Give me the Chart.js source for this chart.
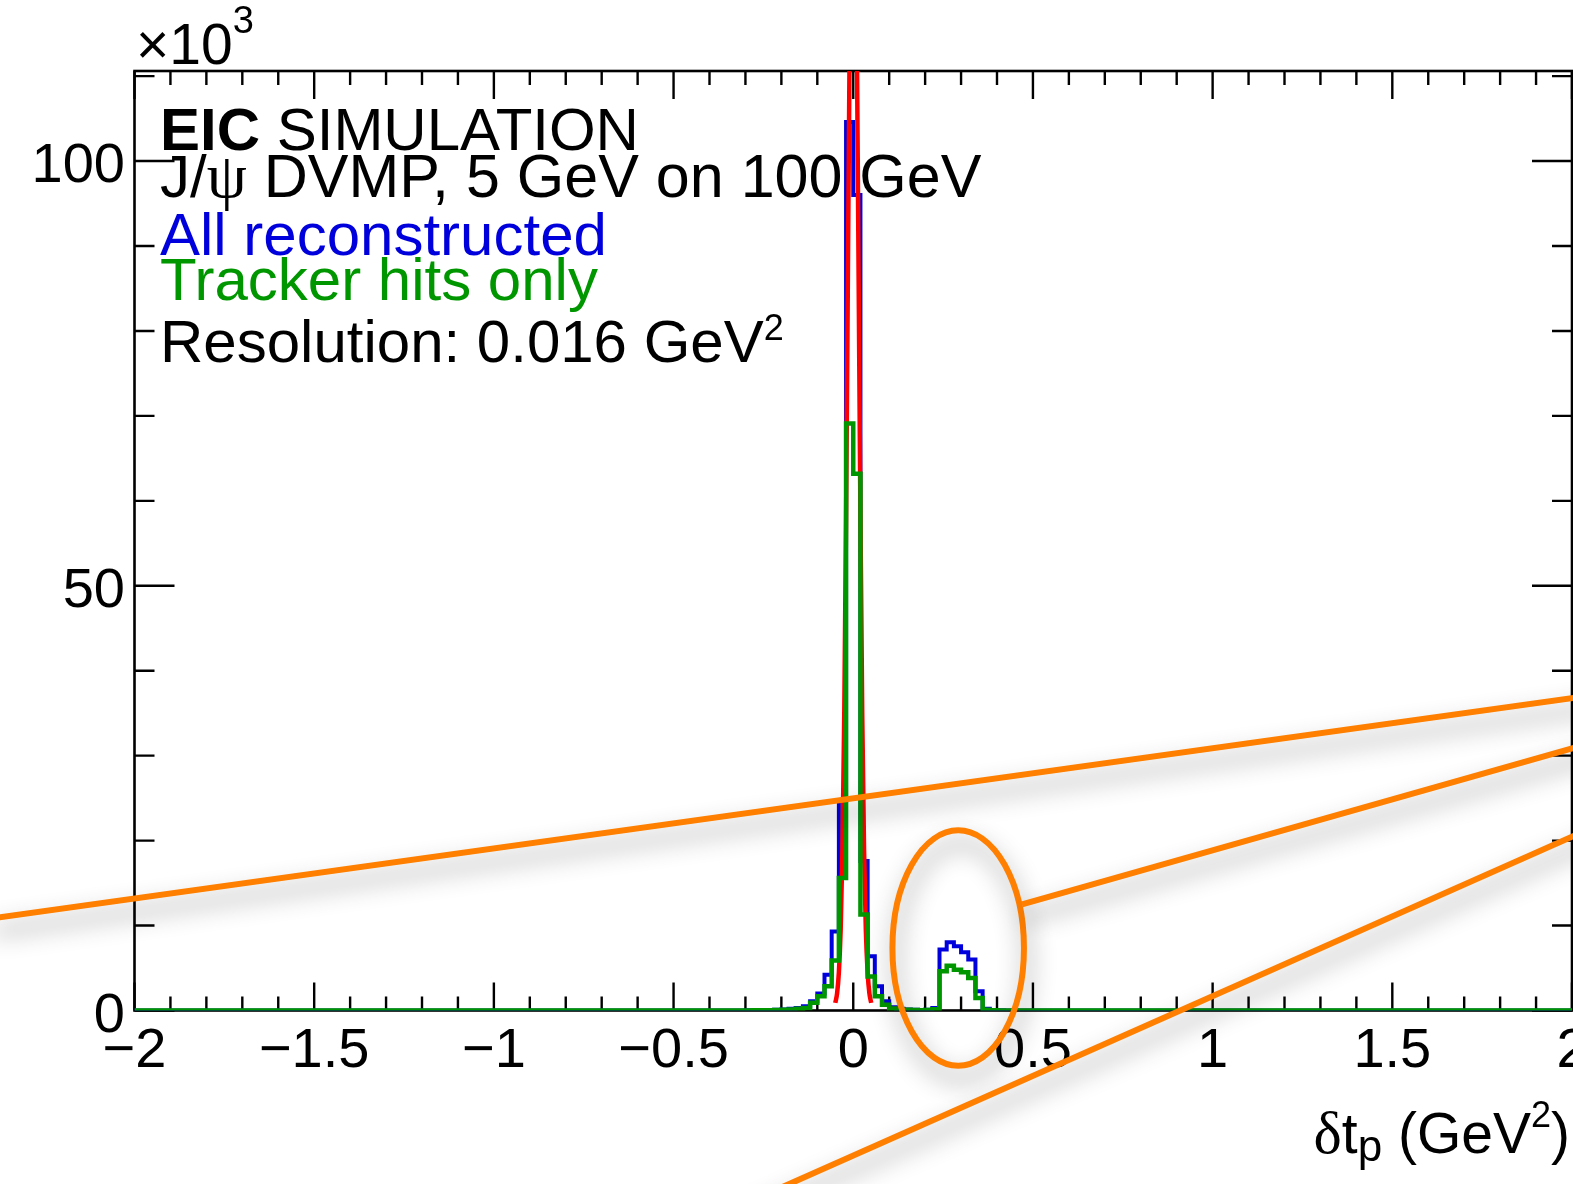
<!DOCTYPE html>
<html>
<head>
<meta charset="utf-8">
<script src="https://cdn.jsdelivr.net/npm/chart.js@4.4.0/dist/chart.umd.min.js"></script>
<style>
  html, body { margin: 0; padding: 0; background: #fff; }
  canvas { display: block; }
</style>
</head>
<body>
<canvas id="dtChart" width="1573" height="1184"></canvas>
<script>
  // binning of the delta t histograms (GeV^2)
  var xMin = -2, xMax = 2, binWidth = 0.02;
  var yMax = 110.6; // x10^3 entries

  // non-empty bins start here, everything else is zero
  var firstFilledEdge = -0.30;

  // entries per bin (x10^3), bins of 0.02 starting at -0.30
  var allReconstructed = [
    0.02, 0.03, 0.04, 0.05, 0.08, 0.12, 0.2, 0.3, 0.5, 1.08,
    2.0, 4.2, 9.3, 24.7, 104.6, 96.0, 17.6, 6.4, 2.85, 1.08,
    0.37, 0.2, 0.12, 0.08, 0.06, 0.08, 0.3, 7.17, 8.03, 7.57,
    6.86, 6.0, 2.26, 0.2, 0.05, 0.02
  ];
  var trackerHitsOnly = [
    0.01, 0.02, 0.02, 0.03, 0.05, 0.08, 0.12, 0.2, 0.3, 0.9,
    1.67, 2.85, 5.9, 15.6, 69.1, 63.2, 11.3, 4.0, 1.67, 0.69,
    0.25, 0.12, 0.08, 0.05, 0.04, 0.05, 0.15, 4.62, 5.28, 4.81,
    4.5, 3.83, 1.47, 0.1, 0.03, 0.01
  ];

  // gaussian fit curve on the main peak
  var fitX = [-0.05, -0.045, -0.04, -0.035, -0.03, -0.025, -0.02, -0.015, -0.01, -0.005, 0,
              0.005, 0.01, 0.015, 0.02, 0.025, 0.03, 0.035, 0.04, 0.045, 0.05];
  var fitY = [0.9, 2.0, 4.5, 9.5, 19, 35, 58, 86, 114, 134, 142,
              134, 114, 86, 58, 35, 19, 9.5, 4.5, 2.0, 0.9];

  var xMajorTicks = [-2, -1.5, -1, -0.5, 0, 0.5, 1, 1.5, 2];
  var xTickLabels = ['\u22122', '\u22121.5', '\u22121', '\u22120.5', '0', '0.5', '1', '1.5', '2'];
  var yMajorTicks = [0, 50, 100];
  var yTickLabels = ['0', '50', '100'];

  // orange callouts (data units)
  var calloutLines = [
    [[-2.40, 10.82], [2.05, 37.07]],
    [[0.4696, 12.5], [2.05, 31.46]],
    [[-0.3156, -23.0], [2.05, 21.4]]
  ];
  var calloutEllipse = { x: 0.292, y: 7.35, rx: 0.183, ry: 13.86 };

  var FONT = '"Liberation Sans", Arial, Helvetica, sans-serif';
  var SERIF = '"Liberation Serif", "DejaVu Serif", serif';
  var BLUE = '#0000dd';
  var GREEN = '#009600';

  function histPoints(values) {
    var nBins = Math.round((xMax - xMin) / binWidth);
    var offset = Math.round((firstFilledEdge - xMin) / binWidth);
    var full = new Array(nBins).fill(0);
    values.forEach(function (v, i) { full[offset + i] = v; });
    var pts = full.map(function (v, i) { return { x: xMin + i * binWidth, y: v }; });
    pts.push({ x: xMax, y: full[nBins - 1] });
    return pts;
  }

  // draws a list of text pieces one after another
  function drawRich(ctx, x, y, parts, align) {
    var total = 0;
    parts.forEach(function (p) { ctx.font = p.font; total += ctx.measureText(p.t).width; });
    var cx = align === 'right' ? x - total : x;
    ctx.textAlign = 'left';
    ctx.textBaseline = 'alphabetic';
    parts.forEach(function (p) {
      ctx.font = p.font;
      ctx.fillStyle = p.color || '#000';
      ctx.fillText(p.t, cx, y + (p.dy || 0));
      cx += ctx.measureText(p.t).width;
    });
  }

  var rootStyle = {
    id: 'rootStyle',
    beforeDatasetsDraw: function (chart) {
      var ctx = chart.ctx, a = chart.chartArea;
      var xs = chart.scales.x, ys = chart.scales.y;
      ctx.save();
      ctx.strokeStyle = '#000';
      ctx.lineWidth = 2.6;
      ctx.strokeRect(a.left, a.top, a.right - a.left, a.bottom - a.top);

      ctx.lineWidth = 2.4;
      ctx.beginPath();
      for (var i = 0; i <= 40; i++) {
        var v = xMin + i * 0.1;
        var len = (i % 5 === 0) ? 28 : 14;
        var px = xs.getPixelForValue(v);
        ctx.moveTo(px, a.bottom); ctx.lineTo(px, a.bottom - len);
        ctx.moveTo(px, a.top); ctx.lineTo(px, a.top + len);
      }
      for (var j = 0; j <= 11; j++) {
        var yv = j * 10;
        if (yv > yMax) break;
        var ylen = (yv % 50 === 0) ? 40 : 20;
        var py = ys.getPixelForValue(yv);
        ctx.moveTo(a.left, py); ctx.lineTo(a.left + ylen, py);
        ctx.moveTo(a.right, py); ctx.lineTo(a.right - ylen, py);
      }
      ctx.stroke();
      ctx.restore();
    },
    afterDraw: function (chart) {
      var ctx = chart.ctx, a = chart.chartArea;
      var xs = chart.scales.x, ys = chart.scales.y;
      ctx.save();

      // tick labels
      ctx.fillStyle = '#000';
      ctx.font = '56px ' + FONT;
      ctx.textBaseline = 'alphabetic';
      ctx.textAlign = 'center';
      xMajorTicks.forEach(function (v, i) {
        ctx.fillText(xTickLabels[i], xs.getPixelForValue(v), 1067);
      });
      ctx.textAlign = 'right';
      yMajorTicks.forEach(function (v, i) {
        ctx.fillText(yTickLabels[i], 125, ys.getPixelForValue(v) + 21);
      });

      // exponent of the y axis
      drawRich(ctx, 136, 64, [
        { t: '\u00d710', font: '57px ' + FONT },
        { t: '3', font: '38px ' + FONT, dy: -31 }
      ]);

      // x axis title
      drawRich(ctx, 1570, 1153, [
        { t: '\u03b4', font: '60px ' + SERIF },
        { t: 't', font: '57px ' + FONT },
        { t: 'p', font: '44px ' + FONT, dy: 8 },
        { t: ' (GeV', font: '57px ' + FONT },
        { t: '2', font: '36px ' + FONT, dy: -26 },
        { t: ')', font: '57px ' + FONT }
      ], 'right');

      // labels in the frame
      drawRich(ctx, 160, 150, [
        { t: 'EIC', font: 'bold 60px ' + FONT },
        { t: ' SIMULATION', font: '60px ' + FONT }
      ]);
      drawRich(ctx, 160, 197, [
        { t: 'J/', font: '60px ' + FONT },
        { t: '\u03c8', font: '64px ' + SERIF },
        { t: ' DVMP, 5 GeV on 100 GeV', font: '61px ' + FONT }
      ]);
      drawRich(ctx, 160, 255, [{ t: 'All reconstructed', font: '60px ' + FONT, color: BLUE }]);
      drawRich(ctx, 160, 300, [{ t: 'Tracker hits only', font: '60px ' + FONT, color: GREEN }]);
      drawRich(ctx, 160, 362, [
        { t: 'Resolution: 0.016 GeV', font: '60px ' + FONT },
        { t: '2', font: '36px ' + FONT, dy: -22 }
      ]);

      // orange callouts with a soft drop shadow
      ctx.strokeStyle = '#ff7f00';
      ctx.lineWidth = 6;
      ctx.lineCap = 'butt';
      ctx.shadowColor = 'rgba(0,0,0,0.45)';
      ctx.shadowBlur = 24;
      ctx.shadowOffsetX = 3;
      ctx.shadowOffsetY = 13;

      var e = calloutEllipse;
      var ecx = xs.getPixelForValue(e.x), ecy = ys.getPixelForValue(e.y);
      var erx = xs.getPixelForValue(e.x + e.rx) - ecx;
      var ery = ecy - ys.getPixelForValue(e.y + e.ry);
      ctx.beginPath();
      ctx.ellipse(ecx, ecy, erx, ery, 0, 0, Math.PI * 2);
      ctx.stroke();

      calloutLines.forEach(function (ln) {
        ctx.beginPath();
        ctx.moveTo(xs.getPixelForValue(ln[0][0]), ys.getPixelForValue(ln[0][1]));
        ctx.lineTo(xs.getPixelForValue(ln[1][0]), ys.getPixelForValue(ln[1][1]));
        ctx.stroke();
      });
      ctx.restore();
    }
  };

  var fitPoints = fitX.map(function (x, i) { return { x: x, y: fitY[i] }; });

  var ctxDt = document.getElementById('dtChart').getContext('2d');
  var dtChart = new Chart(ctxDt, {
    type: 'line',
    data: {
      datasets: [
        {
          label: 'Tracker hits only',
          data: histPoints(trackerHitsOnly),
          borderColor: GREEN,
          borderWidth: 4.5,
          stepped: true,
          pointRadius: 0,
          fill: false,
          order: 1
        },
        {
          label: 'Fit',
          data: fitPoints,
          borderColor: '#ff0000',
          borderWidth: 4.5,
          cubicInterpolationMode: 'monotone',
          pointRadius: 0,
          fill: false,
          order: 2
        },
        {
          label: 'All reconstructed',
          data: histPoints(allReconstructed),
          borderColor: BLUE,
          borderWidth: 4,
          stepped: true,
          pointRadius: 0,
          fill: false,
          order: 3
        }
      ]
    },
    options: {
      responsive: false,
      devicePixelRatio: 1,
      animation: false,
      events: [],
      layout: { padding: { left: 134.5, right: 1, top: 71, bottom: 173.5 } },
      scales: {
        x: { type: 'linear', min: xMin, max: xMax, display: false },
        y: { type: 'linear', min: 0, max: yMax, display: false }
      },
      plugins: {
        legend: { display: false },
        tooltip: { enabled: false }
      }
    },
    plugins: [rootStyle]
  });
</script>
</body>
</html>
